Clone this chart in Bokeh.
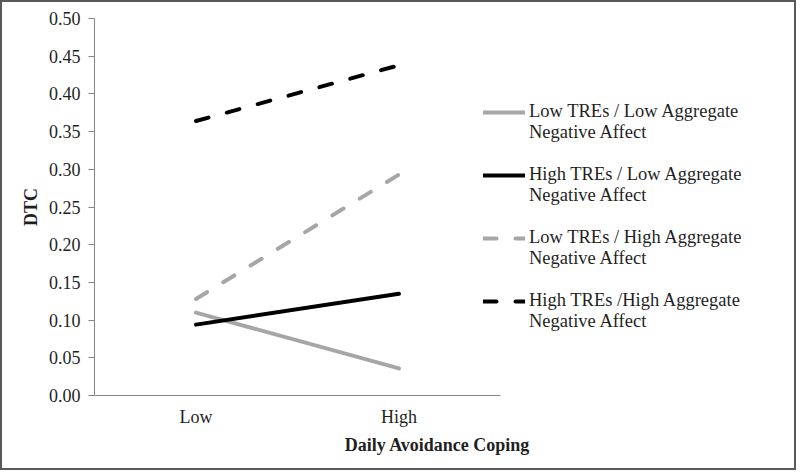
from bokeh.plotting import figure
from bokeh.models import FixedTicker, NumeralTickFormatter, Legend, LegendItem, Range1d
from bokeh.embed import file_html
from bokeh.resources import INLINE

categories = ["Low", "High"]
low_tre_low_na = [0.110, 0.036]
high_tre_low_na = [0.094, 0.135]
low_tre_high_na = [0.128, 0.293]
high_tre_high_na = [0.364, 0.438]
y_ticks = [0.00, 0.05, 0.10, 0.15, 0.20, 0.25, 0.30, 0.35, 0.40, 0.45, 0.50]
labels = [
    "Low TREs / Low Aggregate\nNegative Affect",
    "High TREs / Low Aggregate\nNegative Affect",
    "Low TREs / High Aggregate\nNegative Affect",
    "High TREs /High Aggregate\nNegative Affect",
]

x_idx = list(range(len(categories)))

FONT = "Liberation Serif"
TXT = "#1f1f1f"
GRAY = "#a6a6a6"
AXC = "#868686"

p = figure(width=796, height=470, x_range=Range1d(-0.5, 2.88), y_range=Range1d(0, 0.5),
           output_backend="svg", toolbar_location=None,
           min_border_left=92, min_border_top=16, min_border_bottom=77, min_border_right=18)
p.styles = {"border": "2px solid #595959"}
p.outline_line_color = None
p.xgrid.grid_line_color = None
p.ygrid.grid_line_color = None

r1 = p.line(x_idx, low_tre_low_na, line_color=GRAY, line_width=4, line_cap="round")
r2 = p.line(x_idx, high_tre_low_na, line_color="black", line_width=4, line_cap="round")
r3 = p.line(x_idx, low_tre_high_na, line_color=GRAY, line_width=4, line_cap="round", line_dash="13 19")
r4 = p.line(x_idx, high_tre_high_na, line_color="black", line_width=4, line_cap="round", line_dash="13 19")

for ax in (p.xaxis[0], p.yaxis[0]):
    ax.axis_line_color = AXC
    ax.major_tick_line_color = AXC
    ax.minor_tick_line_color = None
    ax.major_label_text_font = FONT
    ax.major_label_text_font_size = "18px"
    ax.major_label_text_color = TXT
    ax.axis_label_text_font = FONT
    ax.axis_label_text_font_size = "18px"
    ax.axis_label_text_font_style = "bold"
    ax.axis_label_text_color = TXT

p.yaxis.ticker = FixedTicker(ticks=y_ticks)
p.yaxis.formatter = NumeralTickFormatter(format="0.00")
p.yaxis.major_tick_out = 6
p.yaxis.major_tick_in = 0
p.yaxis.major_label_standoff = 8
p.yaxis.axis_label = "DTC"
p.yaxis.axis_label_standoff = 5

p.xaxis.ticker = FixedTicker(ticks=x_idx)
p.xaxis.major_label_overrides = {i: c for i, c in zip(x_idx, categories)}
p.xaxis.bounds = (-0.5, len(categories) - 0.5)
p.xaxis.major_tick_out = 0
p.xaxis.major_tick_in = 0
p.xaxis.major_label_standoff = 11
p.xaxis.axis_label = "Daily Avoidance Coping"
p.xaxis.axis_label_standoff = 5

# leading blank line keeps each swatch level with the first line of its label
legend = Legend(items=[LegendItem(label="\n" + l, renderers=[r]) for l, r in zip(labels, [r1, r2, r3, r4])],
                location=(389, 63))
legend.border_line_color = None
legend.background_fill_alpha = 0
legend.padding = 0
legend.margin = 0
legend.spacing = 0
legend.glyph_width = 42
legend.label_standoff = 4
legend.label_text_font = FONT
legend.label_text_font_size = "18.5px"
legend.label_text_color = TXT
p.add_layout(legend, "center")

open("out.html", "w").write(file_html(p, INLINE))
